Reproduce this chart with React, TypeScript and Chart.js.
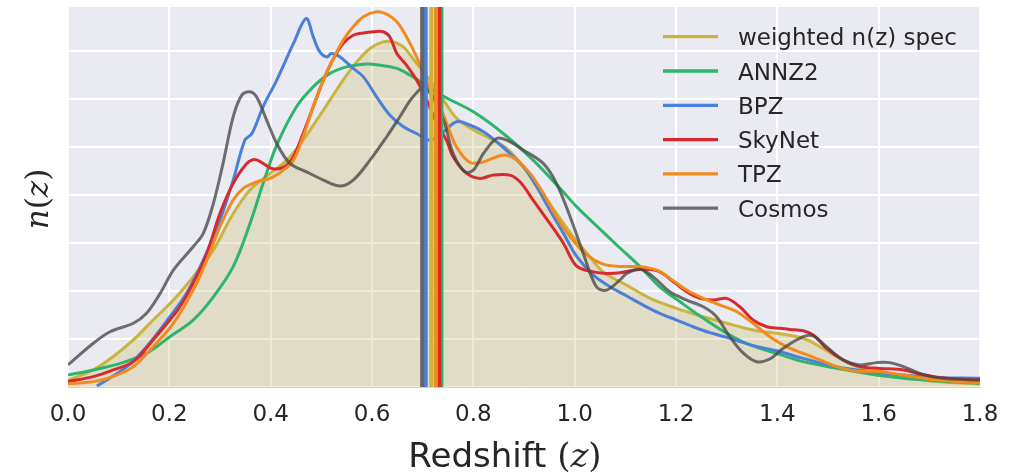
import React, { useEffect, useRef } from "react";
import { Chart, registerables } from "chart.js";

Chart.register(...registerables);

// ---- axes ----
const xTicks = [0, 0.2, 0.4, 0.6, 0.8, 1.0, 1.2, 1.4, 1.6, 1.8];
const yGrid = [0, 0.25, 0.5, 0.75, 1.0, 1.25, 1.5, 1.75];
const yMax = 1.98;

// ---- series ----
const seriesNames = ["weighted n(z) spec", "ANNZ2", "BPZ", "SkyNet", "TPZ", "Cosmos"];
const seriesColors = ["#C8B43E", "#2EB46B", "#4A7FDA", "#D62A2F", "#F28A1E", "rgba(72,72,72,0.78)"];
const meanZ = [0.717, 0.737, 0.706, 0.733, 0.726, 0.699];

const specZ = [0, 0.05, 0.089, 0.129, 0.168, 0.208, 0.247, 0.287, 0.323, 0.359, 0.399, 0.432, 0.464, 0.491, 0.517, 0.543, 0.57, 0.596, 0.622, 0.642, 0.662, 0.688, 0.714, 0.741, 0.767, 0.8, 0.833, 0.866, 0.899, 0.932, 0.964, 0.997, 1.03, 1.056, 1.103, 1.149, 1.201, 1.254, 1.3, 1.352, 1.399, 1.451, 1.484, 1.517, 1.557, 1.603, 1.649, 1.714, 1.8];
const specN = [0.035, 0.089, 0.158, 0.245, 0.349, 0.453, 0.574, 0.714, 0.89, 1.026, 1.113, 1.182, 1.286, 1.391, 1.495, 1.599, 1.694, 1.764, 1.798, 1.798, 1.772, 1.686, 1.599, 1.495, 1.4, 1.339, 1.295, 1.243, 1.147, 1.026, 0.905, 0.783, 0.679, 0.6, 0.53, 0.462, 0.41, 0.366, 0.332, 0.297, 0.28, 0.254, 0.21, 0.158, 0.106, 0.08, 0.054, 0.028, 0.016];

const annzZ = [0, 0.05, 0.103, 0.155, 0.201, 0.247, 0.287, 0.326, 0.359, 0.385, 0.412, 0.451, 0.484, 0.517, 0.55, 0.583, 0.616, 0.649, 0.675, 0.701, 0.741, 0.8, 0.859, 0.918, 0.971, 1.004, 1.043, 1.083, 1.129, 1.168, 1.208, 1.254, 1.3, 1.346, 1.399, 1.451, 1.517, 1.583, 1.649, 1.714, 1.8];
const annzN = [0.0625, 0.089, 0.123, 0.175, 0.262, 0.349, 0.47, 0.627, 0.85, 1.06, 1.26, 1.46, 1.564, 1.634, 1.668, 1.682, 1.677, 1.66, 1.625, 1.582, 1.515, 1.434, 1.321, 1.182, 1.035, 0.939, 0.84, 0.74, 0.627, 0.522, 0.444, 0.358, 0.28, 0.219, 0.175, 0.132, 0.097, 0.068, 0.045, 0.031, 0.019];

const bpzZ = [0.057, 0.116, 0.155, 0.201, 0.234, 0.267, 0.3, 0.326, 0.349, 0.363, 0.385, 0.412, 0.445, 0.47, 0.484, 0.497, 0.511, 0.52, 0.537, 0.563, 0.583, 0.609, 0.635, 0.662, 0.688, 0.714, 0.741, 0.767, 0.793, 0.82, 0.846, 0.872, 0.899, 0.925, 0.951, 0.978, 1.004, 1.037, 1.07, 1.103, 1.135, 1.168, 1.201, 1.234, 1.267, 1.3, 1.333, 1.366, 1.399, 1.451, 1.517, 1.583, 1.649, 1.714, 1.8];
const bpzN = [0.005, 0.106, 0.21, 0.366, 0.488, 0.661, 0.87, 1.078, 1.286, 1.321, 1.46, 1.599, 1.79, 1.92, 1.825, 1.746, 1.72, 1.738, 1.72, 1.66, 1.616, 1.512, 1.417, 1.356, 1.321, 1.286, 1.33, 1.382, 1.365, 1.33, 1.278, 1.217, 1.147, 1.043, 0.922, 0.8, 0.68, 0.583, 0.522, 0.474, 0.427, 0.384, 0.349, 0.314, 0.283, 0.259, 0.231, 0.207, 0.189, 0.149, 0.106, 0.08, 0.0625, 0.05, 0.045];

const skynetZ = [0, 0.05, 0.089, 0.129, 0.168, 0.201, 0.221, 0.247, 0.274, 0.3, 0.326, 0.353, 0.369, 0.385, 0.402, 0.425, 0.445, 0.464, 0.484, 0.504, 0.524, 0.543, 0.563, 0.583, 0.603, 0.622, 0.635, 0.649, 0.668, 0.688, 0.708, 0.728, 0.747, 0.76, 0.787, 0.813, 0.839, 0.872, 0.892, 0.918, 0.951, 0.978, 1.004, 1.037, 1.063, 1.089, 1.116, 1.142, 1.168, 1.195, 1.221, 1.247, 1.274, 1.3, 1.326, 1.352, 1.379, 1.405, 1.425, 1.451, 1.471, 1.497, 1.53, 1.563, 1.603, 1.649, 1.681, 1.734, 1.8];
const skynetN = [0.028, 0.054, 0.089, 0.132, 0.245, 0.349, 0.418, 0.54, 0.696, 0.905, 1.061, 1.165, 1.186, 1.165, 1.139, 1.144, 1.2, 1.321, 1.46, 1.599, 1.712, 1.79, 1.833, 1.845, 1.851, 1.851, 1.825, 1.738, 1.677, 1.599, 1.495, 1.373, 1.286, 1.2, 1.113, 1.087, 1.104, 1.104, 1.069, 0.974, 0.852, 0.748, 0.63, 0.6, 0.592, 0.595, 0.609, 0.613, 0.6, 0.548, 0.496, 0.462, 0.453, 0.462, 0.418, 0.349, 0.314, 0.306, 0.3, 0.293, 0.271, 0.202, 0.141, 0.106, 0.097, 0.089, 0.068, 0.045, 0.036];

const tpzZ = [0, 0.05, 0.089, 0.129, 0.168, 0.208, 0.247, 0.274, 0.3, 0.326, 0.346, 0.372, 0.399, 0.425, 0.445, 0.464, 0.484, 0.504, 0.524, 0.543, 0.563, 0.583, 0.609, 0.629, 0.649, 0.668, 0.688, 0.708, 0.734, 0.748, 0.767, 0.793, 0.82, 0.846, 0.866, 0.886, 0.912, 0.938, 0.964, 0.991, 1.024, 1.056, 1.089, 1.129, 1.162, 1.188, 1.221, 1.254, 1.287, 1.32, 1.352, 1.385, 1.418, 1.451, 1.484, 1.517, 1.55, 1.603, 1.649, 1.714, 1.8];
const tpzN = [0.016, 0.028, 0.054, 0.106, 0.21, 0.332, 0.505, 0.661, 0.835, 0.974, 1.035, 1.069, 1.087, 1.13, 1.182, 1.304, 1.46, 1.599, 1.712, 1.807, 1.877, 1.929, 1.955, 1.943, 1.903, 1.825, 1.72, 1.59, 1.46, 1.37, 1.25, 1.17, 1.173, 1.2, 1.208, 1.182, 1.113, 1.009, 0.887, 0.783, 0.688, 0.64, 0.628, 0.627, 0.609, 0.566, 0.505, 0.462, 0.427, 0.392, 0.332, 0.262, 0.21, 0.175, 0.141, 0.106, 0.085, 0.08, 0.0625, 0.036, 0.022];

const cosmosZ = [0, 0.05, 0.083, 0.129, 0.155, 0.182, 0.208, 0.247, 0.267, 0.287, 0.306, 0.326, 0.343, 0.359, 0.372, 0.392, 0.412, 0.438, 0.471, 0.504, 0.537, 0.563, 0.596, 0.629, 0.655, 0.681, 0.705, 0.741, 0.76, 0.783, 0.8, 0.82, 0.846, 0.866, 0.899, 0.938, 0.964, 0.991, 1.017, 1.043, 1.063, 1.089, 1.103, 1.129, 1.155, 1.188, 1.221, 1.254, 1.28, 1.306, 1.333, 1.359, 1.385, 1.412, 1.451, 1.471, 1.497, 1.53, 1.563, 1.596, 1.622, 1.649, 1.681, 1.727, 1.8];
const cosmosN = [0.115, 0.228, 0.288, 0.332, 0.384, 0.488, 0.609, 0.731, 0.801, 0.957, 1.165, 1.408, 1.521, 1.538, 1.512, 1.391, 1.269, 1.165, 1.121, 1.078, 1.047, 1.078, 1.182, 1.304, 1.408, 1.512, 1.56, 1.391, 1.217, 1.121, 1.13, 1.217, 1.295, 1.286, 1.234, 1.165, 1.061, 0.887, 0.696, 0.522, 0.505, 0.557, 0.592, 0.613, 0.574, 0.496, 0.453, 0.418, 0.366, 0.262, 0.176, 0.132, 0.146, 0.202, 0.262, 0.266, 0.21, 0.141, 0.115, 0.127, 0.127, 0.106, 0.071, 0.045, 0.036];

const seriesZ = [specZ, annzZ, bpzZ, skynetZ, tpzZ, cosmosZ];
const seriesN = [specN, annzN, bpzN, skynetN, tpzN, cosmosN];

const TEXT = "#262626";
const SANS = '"DejaVu Sans", "Liberation Sans", sans-serif';
const SERIF = '"DejaVu Serif", "Liberation Serif", serif';

const plotBackground = {
  id: "plotBackground",
  beforeDraw(chart: any) {
    const { ctx, chartArea } = chart;
    ctx.save();
    ctx.fillStyle = "#EAEAF2";
    ctx.fillRect(chartArea.left, chartArea.top, chartArea.right - chartArea.left, chartArea.bottom - chartArea.top);
    ctx.restore();
  },
};

function drawParts(ctx: CanvasRenderingContext2D, parts: { t: string; f: string }[], x: number, y: number) {
  let cx = x;
  for (const p of parts) {
    ctx.font = p.f;
    ctx.fillText(p.t, cx, y);
    cx += ctx.measureText(p.t).width;
  }
}

function partsWidth(ctx: CanvasRenderingContext2D, parts: { t: string; f: string }[]) {
  let w = 0;
  for (const p of parts) {
    ctx.font = p.f;
    w += ctx.measureText(p.t).width;
  }
  return w;
}

const axisTitles = {
  id: "axisTitles",
  afterDraw(chart: any) {
    const { ctx, chartArea } = chart;
    ctx.save();
    ctx.fillStyle = TEXT;
    ctx.textAlign = "left";
    ctx.textBaseline = "alphabetic";

    const xParts = [
      { t: "Redshift ", f: `34px ${SANS}` },
      { t: "(", f: `34px ${SERIF}` },
      { t: "z", f: `italic 34px ${SERIF}` },
      { t: ")", f: `34px ${SERIF}` },
    ];
    const xw = partsWidth(ctx, xParts);
    const xc = (chartArea.left + chartArea.right) / 2 - 19;
    drawParts(ctx, xParts, xc - xw / 2, chartArea.bottom + 80);

    const yParts = [
      { t: "n", f: `italic 31px ${SERIF}` },
      { t: "(", f: `31px ${SERIF}` },
      { t: "z", f: `italic 31px ${SERIF}` },
      { t: ")", f: `31px ${SERIF}` },
    ];
    const yw = partsWidth(ctx, yParts);
    ctx.translate(chartArea.left - 20, (chartArea.top + chartArea.bottom) / 2 + 2);
    ctx.rotate(-Math.PI / 2);
    drawParts(ctx, yParts, -yw / 2, 0);
    ctx.restore();
  },
};

const insideLegend = {
  id: "insideLegend",
  afterDatasetsDraw(chart: any) {
    const { ctx, chartArea } = chart;
    ctx.save();
    const x0 = chartArea.right - 317;
    const x1 = chartArea.right - 262;
    const tx = chartArea.right - 242;
    seriesNames.forEach((name, i) => {
      const y = chartArea.top + 29.7 + i * 34.3;
      ctx.strokeStyle = seriesColors[i];
      ctx.lineWidth = 3.3;
      ctx.lineCap = "butt";
      ctx.beginPath();
      ctx.moveTo(x0, y);
      ctx.lineTo(x1, y);
      ctx.stroke();
      ctx.fillStyle = TEXT;
      ctx.font = `23px ${SANS}`;
      ctx.textBaseline = "alphabetic";
      ctx.textAlign = "left";
      ctx.fillText(name, tx, y + 8.5);
    });
    ctx.restore();
  },
};

function buildDatasets() {
  const curves = seriesNames.map((name, i) => ({
    label: name,
    data: seriesZ[i].map((z, k) => ({ x: z, y: seriesN[i][k] })),
    borderColor: seriesColors[i],
    borderWidth: 3,
    pointRadius: 0,
    tension: 0.35,
    fill: i === 0 ? "origin" : false,
    backgroundColor: i === 0 ? "rgba(200,180,70,0.25)" : "transparent",
    order: 20 - i,
  }));
  const means = seriesNames.map((name, i) => ({
    label: name + " mean",
    data: [
      { x: meanZ[i], y: 0 },
      { x: meanZ[i], y: yMax },
    ],
    borderColor: i === 5 ? "rgba(95,95,95,0.95)" : seriesColors[i],
    borderWidth: 4,
    pointRadius: 0,
    tension: 0,
    fill: false,
    order: 10 - i,
  }));
  // ANNZ2 mean sits beneath the others
  means[1].order = 12;
  return [...curves, ...means];
}

export default function App() {
  const ref = useRef<HTMLCanvasElement>(null);

  useEffect(() => {
    document.body.style.margin = "0";
    const chart = new Chart(ref.current as HTMLCanvasElement, {
      type: "line",
      data: { datasets: buildDatasets() as any },
      options: {
        animation: false,
        responsive: true,
        maintainAspectRatio: false,
        devicePixelRatio: 1,
        events: [],
        layout: { padding: { top: 7, right: 39, left: 0, bottom: 0 } },
        plugins: {
          legend: { display: false },
          tooltip: { enabled: false },
          title: { display: false },
        },
        scales: {
          x: {
            type: "linear",
            min: 0,
            max: 1.8,
            afterBuildTicks: (s: any) => {
              s.ticks = xTicks.map((v) => ({ value: v }));
            },
            afterFit: (s: any) => {
              s.height = 89;
            },
            ticks: {
              callback: (v: any) => Number(v).toFixed(1),
              font: { family: SANS, size: 23 },
              color: TEXT,
              padding: 14,
              autoSkip: false,
              maxRotation: 0,
              minRotation: 0,
            },
            grid: { color: "#FFFFFF", lineWidth: 2, drawTicks: false },
            border: { display: true, color: "#CFCFD4", width: 1 },
          },
          y: {
            type: "linear",
            min: 0,
            max: yMax,
            afterBuildTicks: (s: any) => {
              s.ticks = yGrid.map((v) => ({ value: v }));
            },
            afterFit: (s: any) => {
              s.width = 68;
            },
            ticks: { display: false },
            grid: { color: "#FFFFFF", lineWidth: 2, drawTicks: false },
            border: { display: false },
          },
        },
      } as any,
      plugins: [plotBackground, insideLegend, axisTitles],
    });
    return () => chart.destroy();
  }, []);

  return (
    <div style={{ width: 1019, height: 476, position: "relative" }}>
      <canvas ref={ref} />
    </div>
  );
}
